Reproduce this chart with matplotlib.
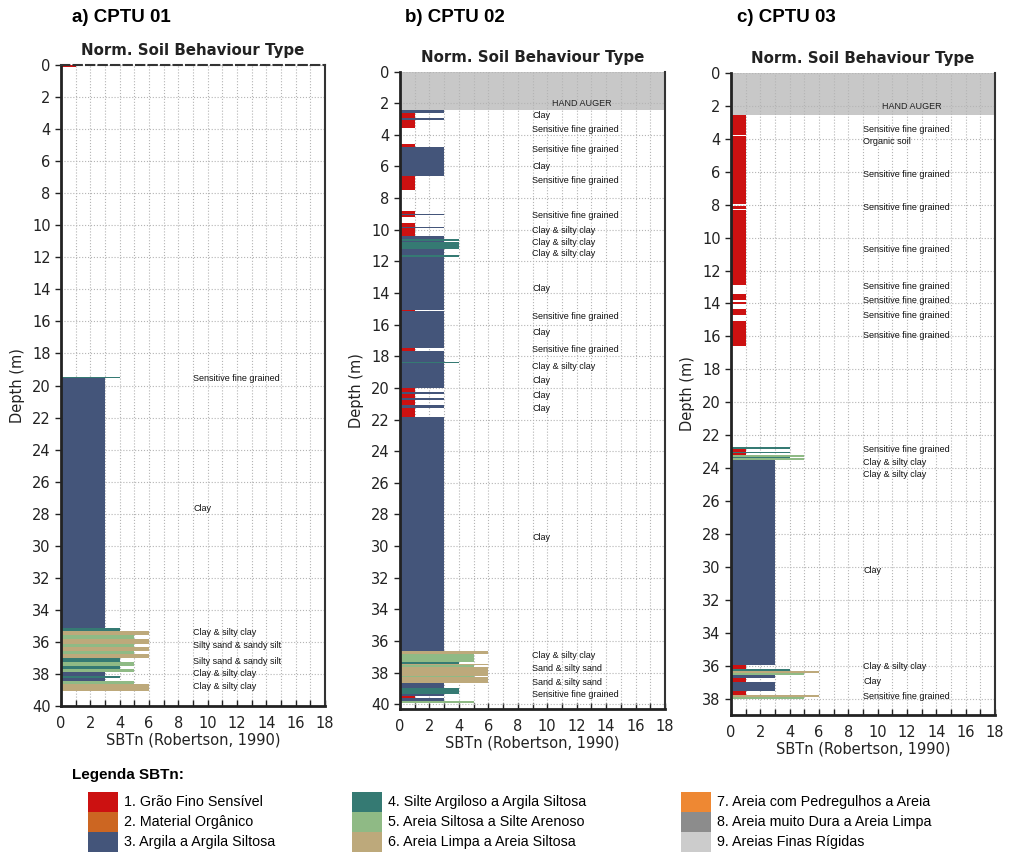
import numpy as np
import matplotlib
matplotlib.use("Agg")
import matplotlib.pyplot as plt
from matplotlib.patches import Rectangle
from matplotlib.ticker import MultipleLocator

# layer boundaries (m) and SBTn class of each layer, 0 = no reading
cptu01_depth = [0, 0.12, 19.45, 19.55, 35.15, 35.35, 35.6, 35.85, 36.1, 36.3, 36.55,
                36.75, 37.0, 37.25, 37.5, 37.7, 37.85, 38.1, 38.25, 38.45, 38.6, 39.05]
cptu01_sbtn = [1, 0, 4, 3, 4, 6, 5, 6, 5, 6, 5, 6, 4, 5, 4, 5, 3, 4, 3, 5, 6]

cptu02_depth = [0, 2.45, 2.6, 2.95, 3.05, 3.55, 4.6, 4.8, 6.6, 7.5, 8.85, 9.0, 9.1, 9.2,
                9.55, 9.8, 9.9, 10.4, 10.6, 10.7, 10.8, 11.2, 11.6, 11.7, 15.05, 15.15,
                17.45, 17.65, 18.35, 18.45, 20.0, 20.25, 20.38, 20.65, 20.78, 21.1, 21.3,
                21.85, 36.65, 36.8, 37.3, 37.45, 37.55, 37.65, 38.2, 38.3, 38.65, 38.95,
                39.38, 39.5, 39.6, 39.8, 39.95]
cptu02_sbtn = [0, 3, 1, 3, 1, 0, 1, 3, 1, 0, 1, 3, 1, 0,
               1, 3, 1, 3, 4, 3, 4, 3, 4, 3, 1, 3,
               1, 3, 4, 3, 1, 3, 1, 3, 1, 3, 1,
               3, 6, 5, 4, 6, 5, 6, 5, 6, 3, 4,
               3, 1, 3, 5]

cptu03_depth = [0, 2.55, 3.75, 3.85, 7.95, 8.05, 8.25, 8.35, 12.85, 13.45, 13.8, 13.9,
                14.05, 14.35, 14.7, 15.05, 16.6, 22.75, 22.85, 23.0, 23.08, 23.2, 23.3,
                23.4, 23.5, 35.95, 36.2, 36.3, 36.45, 36.55, 36.75, 37.0, 37.55, 37.8,
                37.9, 38.0]
cptu03_sbtn = [0, 1, 0, 1, 0, 1, 0, 1, 0, 1, 0,
               1, 0, 1, 0, 1, 0, 4, 1, 4, 1, 5,
               4, 5, 3, 1, 4, 6, 5, 3, 1, 3, 1,
               6, 5]

auger_depth_02 = 2.45
auger_depth_03 = 2.55

# interpreted soil descriptions printed beside each profile
cptu01_label_depth = [19.56, 27.7, 35.4, 36.25, 37.2, 38.0, 38.8]
cptu01_label_text = ["Sensitive fine grained", "Clay", "Clay & silty clay",
                     "Silty sand & sandy silt", "Silty sand & sandy silt",
                     "Clay & silty clay", "Clay & silty clay"]

cptu02_label_depth = [2.75, 3.66, 4.92, 5.98, 6.87, 9.13, 10.03, 10.83, 11.5, 13.72,
                      15.47, 16.53, 17.58, 18.64, 19.53, 20.47, 21.32, 29.46,
                      36.9, 37.73, 38.62, 39.4]
cptu02_label_text = ["Clay", "Sensitive fine grained", "Sensitive fine grained", "Clay",
                     "Sensitive fine grained", "Sensitive fine grained",
                     "Clay & silty clay", "Clay & silty clay", "Clay & silty clay", "Clay",
                     "Sensitive fine grained", "Clay", "Sensitive fine grained",
                     "Clay & silty clay", "Clay", "Clay", "Clay", "Clay",
                     "Clay & silty clay", "Sand & silty sand", "Sand & silty sand",
                     "Sensitive fine grained"]

cptu03_label_depth = [3.44, 4.14, 6.16, 8.18, 10.75, 12.99, 13.84, 14.71, 15.96,
                      22.87, 23.68, 24.36, 30.22, 36.08, 36.95, 37.86]
cptu03_label_text = ["Sensitive fine grained", "Organic soil", "Sensitive fine grained",
                     "Sensitive fine grained", "Sensitive fine grained",
                     "Sensitive fine grained", "Sensitive fine grained",
                     "Sensitive fine grained", "Sensitive fine grained",
                     "Sensitive fine grained", "Clay & silty clay", "Clay & silty clay",
                     "Clay", "Clay & silty clay", "Clay", "Sensitive fine grained"]

legend_labels = ["1. Grão Fino Sensível", "2. Material Orgânico", "3. Argila a Argila Siltosa",
                 "4. Silte Argiloso a Argila Siltosa", "5. Areia Siltosa a Silte Arenoso",
                 "6. Areia Limpa a Areia Siltosa", "7. Areia com Pedregulhos a Areia",
                 "8. Areia muito Dura a Areia Limpa", "9. Areias Finas Rígidas"]

sbtn_colors = ['#ffffff', '#cc1111', '#cc6622', '#44557a', '#357a73', '#8fba85',
               '#bda97b', '#ee8833', '#8c8c8c', '#cccccc']

arial = ['Liberation Sans', 'DejaVu Sans']
plt.rcParams['font.family'] = ['DejaVu Sans']

fig = plt.figure(figsize=(10.09, 8.58), dpi=100)


def draw_profile(rect, depth, sbtn, lab_depth, lab_text, ymax, auger=None, show_top=False):
    ax = fig.add_axes(rect)
    depth = np.asarray(depth, dtype=float)
    sbtn = np.asarray(sbtn)
    ax.barh(depth[:-1], sbtn, height=np.diff(depth), left=0, align='edge',
            color=[sbtn_colors[c] for c in sbtn], linewidth=0, zorder=2)
    if auger is not None:
        ax.axhspan(0, auger, color='#c8c8c8', zorder=1.5, lw=0)
        ax.text(10.3, 2.05, "HAND AUGER", fontsize=6.5, family=arial, va='center',
                color='#222222', zorder=3)
    for d, t in zip(lab_depth, lab_text):
        ax.text(9, d, t, fontsize=6.5, family=arial, va='center', color='#111111', zorder=3)

    ax.set_xlim(0, 18)
    ax.set_ylim(ymax, 0)
    ax.xaxis.set_major_locator(MultipleLocator(2))
    ax.xaxis.set_minor_locator(MultipleLocator(1))
    ax.yaxis.set_major_locator(MultipleLocator(2))
    ax.grid(which='both', axis='x', ls=':', color='#b4b4b4', lw=0.8, zorder=0)
    ax.grid(which='major', axis='y', ls=':', color='#b4b4b4', lw=0.8, zorder=0)
    ax.tick_params(axis='x', which='both', direction='in', length=4, width=1,
                   labelsize=10.5, pad=7, colors='#222222')
    ax.tick_params(axis='y', which='major', direction='out', length=4, width=1,
                   labelsize=10.5, colors='#222222')
    ax.tick_params(top=False, right=False)
    for s in ['left', 'bottom']:
        ax.spines[s].set_linewidth(2)
        ax.spines[s].set_color('#222222')
    ax.spines['right'].set_linewidth(1.5)
    ax.spines['right'].set_color('#333333')
    if show_top:
        ax.spines['top'].set_linestyle((0, (4, 2)))
        ax.spines['top'].set_linewidth(1.5)
        ax.spines['top'].set_color('#333333')
    else:
        ax.spines['top'].set_visible(False)
    ax.set_title("Norm. Soil Behaviour Type", fontsize=10.8, fontweight='bold', pad=7,
                 color='#222222')
    ax.set_xlabel("SBTn (Robertson, 1990)", fontsize=10.5, labelpad=1, color='#222222')
    ax.set_ylabel("Depth (m)", fontsize=10.5, labelpad=5, color='#222222')
    return ax


H = 858.0
W = 1009.0
draw_profile([61 / W, 1 - 706 / H, 264 / W, 641 / H], cptu01_depth, cptu01_sbtn,
             cptu01_label_depth, cptu01_label_text, 40, show_top=True)
draw_profile([400 / W, 1 - 709 / H, 265 / W, 637.5 / H], cptu02_depth, cptu02_sbtn,
             cptu02_label_depth, cptu02_label_text, 40.3, auger=auger_depth_02)
draw_profile([731 / W, 1 - 715 / H, 264 / W, 642 / H], cptu03_depth, cptu03_sbtn,
             cptu03_label_depth, cptu03_label_text, 39.0, auger=auger_depth_03)

for x, t in [(72, "a) CPTU 01"), (405, "b) CPTU 02"), (737, "c) CPTU 03")]:
    fig.text(x / W, 1 - 18 / H, t, fontsize=13.5, fontweight='bold',
             family=arial, va='center', ha='left')

# legend drawn in pixel coordinates at the bottom
lax = fig.add_axes([0, 0, 1, 100 / H])
lax.set_xlim(0, W)
lax.set_ylim(H, H - 100)
lax.axis('off')
lax.text(72, 775, "Legenda SBTn:", fontsize=11, fontweight='bold', family=arial, va='center')
col_x = [88, 352, 681]
for i, lab in enumerate(legend_labels):
    cx = col_x[i // 3]
    ry = 792 + 20 * (i % 3)
    lax.add_patch(Rectangle((cx, ry), 30, 20, facecolor=sbtn_colors[i + 1], edgecolor='none'))
    lax.text(cx + 36, ry + 10, lab, fontsize=10.3, family=arial, va='center')

fig.savefig("out.png", dpi=100)
